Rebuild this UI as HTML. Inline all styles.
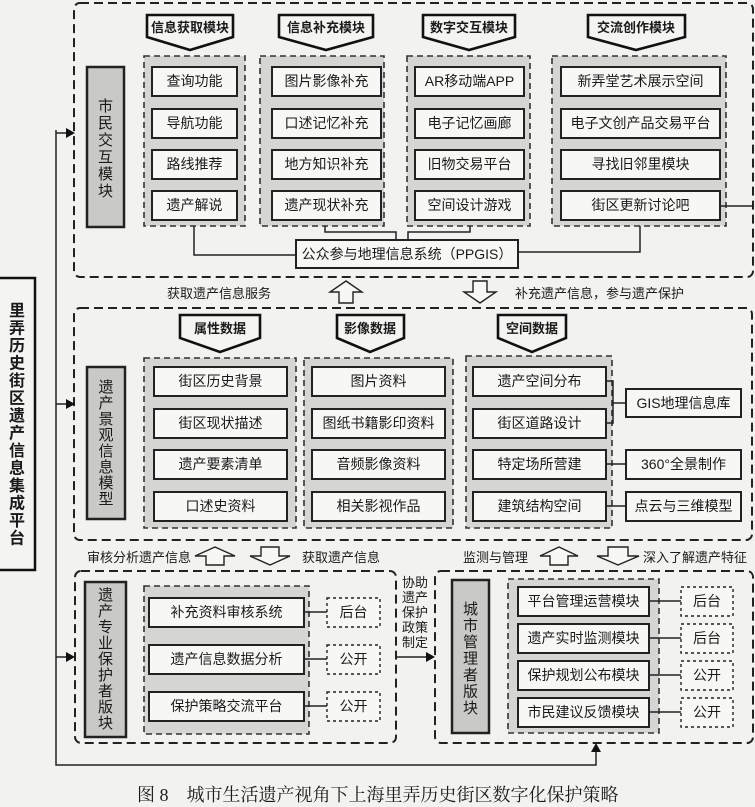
<!DOCTYPE html>
<html><head><meta charset="utf-8"><style>
html,body{margin:0;padding:0;background:#f2f2f0;}
svg{display:block;}
text{font-family:"Liberation Sans","Noto Sans CJK SC",sans-serif;fill:#1a1a1a;}
.b{fill:#f7f7f5;stroke:#222;stroke-width:2;}
.g{fill:#d5d5d3;stroke:#333;stroke-width:1.6;stroke-dasharray:6 4;}
.p{fill:none;stroke:#222;stroke-width:2;stroke-dasharray:9 5;}
.v{fill:#c9c9c7;stroke:#222;stroke-width:2.5;}
.t{fill:#f7f7f5;stroke:#222;stroke-width:1.4;stroke-dasharray:3 3;}
.l{fill:none;stroke:#222;stroke-width:1.5;}
.pt{fill:#f4f4f2;stroke:#111;stroke-width:2.6;}
.ha{fill:#f7f7f5;stroke:#222;stroke-width:1.4;}
.c{text-anchor:middle;font-size:14px;}
.h{text-anchor:middle;font-size:13px;font-weight:bold;}
.vt{text-anchor:middle;font-size:15px;}
</style></head><body>
<svg width="755" height="807" viewBox="0 0 755 807" xmlns="http://www.w3.org/2000/svg">
<rect class="p" x="74" y="3" width="679" height="274" rx="6"/>
<rect class="p" x="74" y="308" width="678" height="232" rx="6"/>
<rect class="p" x="75" y="571" width="321" height="172" rx="6"/>
<rect class="p" x="435" y="571" width="318" height="172" rx="6"/>

<rect x="-2" y="278" width="37" height="292" fill="#f4f4f2" stroke="#111" stroke-width="2.5"/>
<text text-anchor="middle" font-size="16" font-weight="bold">
<tspan x="17" y="316">里</tspan><tspan x="17" y="333.5">弄</tspan><tspan x="17" y="351">历</tspan><tspan x="17" y="368.5">史</tspan><tspan x="17" y="386">街</tspan><tspan x="17" y="403.5">区</tspan><tspan x="17" y="421">遗</tspan><tspan x="17" y="438.5">产</tspan><tspan x="17" y="456">信</tspan><tspan x="17" y="473.5">息</tspan><tspan x="17" y="491">集</tspan><tspan x="17" y="508.5">成</tspan><tspan x="17" y="526">平</tspan><tspan x="17" y="543.5">台</tspan></text>

<polyline class="l" points="56,130 56,765 596,765 596,750" stroke-width="2"/>
<line class="l" x1="56" y1="133" x2="68" y2="133" stroke-width="2"/><polygon points="66,128 75,133 66,138" fill="#111"/>
<line class="l" x1="56" y1="404" x2="68" y2="404" stroke-width="2"/><polygon points="66,399 75,404 66,409" fill="#111"/>
<line class="l" x1="56" y1="657" x2="68" y2="657" stroke-width="2"/><polygon points="66,652 75,657 66,662" fill="#111"/>
<polygon points="591,752 596,743 601,752" fill="#111"/>
<line class="l" x1="396" y1="657" x2="428" y2="657" stroke-width="2"/><polygon points="426,652 435,657 426,662" fill="#111"/>

<rect class="v" x="87" y="67" width="37" height="160"/>
<text class="vt"><tspan x="105.5" y="111">市</tspan><tspan x="105.5" y="128">民</tspan><tspan x="105.5" y="145">交</tspan><tspan x="105.5" y="162">互</tspan><tspan x="105.5" y="179">模</tspan><tspan x="105.5" y="196">块</tspan></text>

<polygon class="pt" points="147,15 233,15 233,37 190,50 147,37"/><text class="h" x="190" y="32">信息获取模块</text>
<polygon class="pt" points="279,15 373,15 373,37 326,50 279,37"/><text class="h" x="326" y="32">信息补充模块</text>
<polygon class="pt" points="423,15 515,15 515,37 469,50 423,37"/><text class="h" x="469" y="32">数字交互模块</text>
<polygon class="pt" points="588,15 685,15 685,37 636,50 588,37"/><text class="h" x="636" y="32">交流创作模块</text>

<rect class="g" x="144" y="56" width="101" height="170"/>
<rect class="g" x="260" y="56" width="124" height="170"/>
<rect class="g" x="407" y="56" width="123" height="170"/>
<rect class="g" x="552" y="56" width="174" height="170"/>

<g>
<rect class="b" x="152" y="67" width="85" height="29"/><text class="c" x="194.5" y="86">查询功能</text>
<rect class="b" x="152" y="109" width="85" height="29"/><text class="c" x="194.5" y="128">导航功能</text>
<rect class="b" x="152" y="150" width="85" height="29"/><text class="c" x="194.5" y="169">路线推荐</text>
<rect class="b" x="152" y="191" width="85" height="29"/><text class="c" x="194.5" y="210">遗产解说</text>
<rect class="b" x="272" y="67" width="109" height="29"/><text class="c" x="326.5" y="86">图片影像补充</text>
<rect class="b" x="272" y="109" width="109" height="29"/><text class="c" x="326.5" y="128">口述记忆补充</text>
<rect class="b" x="272" y="150" width="109" height="29"/><text class="c" x="326.5" y="169">地方知识补充</text>
<rect class="b" x="272" y="191" width="109" height="29"/><text class="c" x="326.5" y="210">遗产现状补充</text>
<rect class="b" x="415" y="67" width="109" height="29"/><text class="c" x="469.5" y="86">AR移动端APP</text>
<rect class="b" x="415" y="109" width="109" height="29"/><text class="c" x="469.5" y="128">电子记忆画廊</text>
<rect class="b" x="415" y="150" width="109" height="29"/><text class="c" x="469.5" y="169">旧物交易平台</text>
<rect class="b" x="415" y="191" width="109" height="29"/><text class="c" x="469.5" y="210">空间设计游戏</text>
<rect class="b" x="561" y="67" width="159" height="29"/><text class="c" x="640.5" y="86">新弄堂艺术展示空间</text>
<rect class="b" x="561" y="109" width="159" height="29"/><text class="c" x="640.5" y="128">电子文创产品交易平台</text>
<rect class="b" x="561" y="150" width="159" height="29"/><text class="c" x="640.5" y="169">寻找旧邻里模块</text>
<rect class="b" x="561" y="191" width="159" height="29"/><text class="c" x="640.5" y="210">街区更新讨论吧</text>
</g>
<polyline class="l" points="194,226 194,255 296,255"/>
<polyline class="l" points="325,226 325,232 396,232 396,240"/>
<polyline class="l" points="470,226 470,232 408,232 408,240"/>
<polyline class="l" points="640,226 640,252 518,252"/>
<line class="l" x1="720" y1="206" x2="753" y2="206"/>
<rect class="b" x="296" y="240" width="222" height="28" stroke-width="1.6"/><text class="c" x="407" y="259">公众参与地理信息系统（PPGIS）</text>

<text x="167" y="298" font-size="13">获取遗产信息服务</text>
<polygon class="ha" points="346,281 362,292 353,292 353,303 339,303 339,292 330,292"/>
<polygon class="ha" points="480,303 496,292 487,292 487,281 473,281 473,292 464,292"/>
<text x="515" y="298" font-size="13">补充遗产信息，参与遗产保护</text>

<rect class="v" x="87" y="367" width="38" height="152"/>
<text class="vt" font-size="14"><tspan x="106" y="392">遗</tspan><tspan x="106" y="408">产</tspan><tspan x="106" y="424">景</tspan><tspan x="106" y="440">观</tspan><tspan x="106" y="456">信</tspan><tspan x="106" y="472">息</tspan><tspan x="106" y="488">模</tspan><tspan x="106" y="504">型</tspan></text>

<polygon class="pt" points="180,315 260,315 260,338 220,352 180,338"/><text class="h" x="220" y="333">属性数据</text>
<polygon class="pt" points="337,315 404,315 404,338 370,352 337,338"/><text class="h" x="370" y="333">影像数据</text>
<polygon class="pt" points="498,315 566,315 566,338 532,352 498,338"/><text class="h" x="532" y="333">空间数据</text>

<rect class="g" x="144" y="358" width="152" height="170"/>
<rect class="g" x="304" y="358" width="149" height="170"/>
<rect class="g" x="466" y="356" width="146" height="172"/>
<g>
<rect class="b" x="154" y="367" width="133" height="29"/><text class="c" x="220.5" y="386">街区历史背景</text>
<rect class="b" x="154" y="409" width="133" height="29"/><text class="c" x="220.5" y="428">街区现状描述</text>
<rect class="b" x="154" y="450" width="133" height="29"/><text class="c" x="220.5" y="469">遗产要素清单</text>
<rect class="b" x="154" y="492" width="133" height="29"/><text class="c" x="220.5" y="511">口述史资料</text>
<rect class="b" x="312" y="367" width="133" height="29"/><text class="c" x="378.5" y="386">图片资料</text>
<rect class="b" x="312" y="409" width="133" height="29"/><text class="c" x="378.5" y="428">图纸书籍影印资料</text>
<rect class="b" x="312" y="450" width="133" height="29"/><text class="c" x="378.5" y="469">音频影像资料</text>
<rect class="b" x="312" y="492" width="133" height="29"/><text class="c" x="378.5" y="511">相关影视作品</text>
<rect class="b" x="473" y="367" width="133" height="29"/><text class="c" x="539.5" y="386">遗产空间分布</text>
<rect class="b" x="473" y="409" width="133" height="29"/><text class="c" x="539.5" y="428">街区道路设计</text>
<rect class="b" x="473" y="450" width="133" height="29"/><text class="c" x="539.5" y="469">特定场所营建</text>
<rect class="b" x="473" y="492" width="133" height="29"/><text class="c" x="539.5" y="511">建筑结构空间</text>
<rect class="b" x="626" y="389" width="115" height="28"/><text class="c" x="683.5" y="408">GIS地理信息库</text>
<rect class="b" x="626" y="450" width="115" height="29"/><text class="c" x="683.5" y="469">360°全景制作</text>
<rect class="b" x="626" y="492" width="115" height="29"/><text class="c" x="683.5" y="511">点云与三维模型</text>
</g>
<polyline class="l" points="606,381 613,381 613,423 606,423"/>
<line class="l" x1="613" y1="403" x2="626" y2="403"/>
<line class="l" x1="606" y1="464" x2="626" y2="464"/>
<line class="l" x1="606" y1="506" x2="626" y2="506"/>

<text x="87" y="562" font-size="13">审核分析遗产信息</text>
<polygon class="ha" points="215,547 235,556 224,556 224,565 206,565 206,556 195,556"/>
<polygon class="ha" points="270,565 290,556 279,556 279,547 261,547 261,556 250,556"/>
<text x="302" y="562" font-size="13">获取遗产信息</text>
<text x="463" y="562" font-size="13">监测与管理</text>
<polygon class="ha" points="559,547 578,556 568,556 568,565 550,565 550,556 540,556"/>
<polygon class="ha" points="618,565 639,556 628,556 628,547 608,547 608,556 597,556"/>
<text x="643" y="562" font-size="13">深入了解遗产特征</text>

<rect class="v" x="85" y="582" width="41" height="155"/>
<text class="vt" font-size="14"><tspan x="105.5" y="600">遗</tspan><tspan x="105.5" y="616">产</tspan><tspan x="105.5" y="632">专</tspan><tspan x="105.5" y="648">业</tspan><tspan x="105.5" y="664">保</tspan><tspan x="105.5" y="680">护</tspan><tspan x="105.5" y="696">者</tspan><tspan x="105.5" y="712">版</tspan><tspan x="105.5" y="728">块</tspan></text>
<rect class="g" x="144" y="586" width="165" height="148"/>
<rect class="b" x="149" y="598" width="155" height="29"/><text class="c" x="226.5" y="617">补充资料审核系统</text>
<rect class="b" x="149" y="645" width="155" height="29"/><text class="c" x="226.5" y="664">遗产信息数据分析</text>
<rect class="b" x="149" y="692" width="155" height="29"/><text class="c" x="226.5" y="711">保护策略交流平台</text>
<rect class="t" x="327" y="598" width="53" height="29"/><text class="c" x="353.5" y="617">后台</text>
<rect class="t" x="327" y="645" width="53" height="29"/><text class="c" x="353.5" y="664">公开</text>
<rect class="t" x="327" y="692" width="53" height="29"/><text class="c" x="353.5" y="711">公开</text>
<line class="l" x1="304" y1="612" x2="327" y2="612"/>
<line class="l" x1="304" y1="659" x2="327" y2="659"/>
<line class="l" x1="304" y1="706" x2="327" y2="706"/>

<text font-size="13"><tspan x="402" y="587">协助</tspan><tspan x="402" y="602">遗产</tspan><tspan x="402" y="617">保护</tspan><tspan x="402" y="632">政策</tspan><tspan x="402" y="647">制定</tspan></text>

<rect class="v" x="452" y="580" width="37" height="153"/>
<text class="vt" font-size="14"><tspan x="470.5" y="614">城</tspan><tspan x="470.5" y="630.5">市</tspan><tspan x="470.5" y="647">管</tspan><tspan x="470.5" y="663.5">理</tspan><tspan x="470.5" y="680">者</tspan><tspan x="470.5" y="696.5">版</tspan><tspan x="470.5" y="713">块</tspan></text>
<rect class="g" x="508" y="579" width="151" height="154"/>
<rect class="b" x="518" y="587" width="131" height="29"/><text class="c" x="583.5" y="606">平台管理运营模块</text>
<rect class="b" x="518" y="624" width="131" height="29"/><text class="c" x="583.5" y="643">遗产实时监测模块</text>
<rect class="b" x="518" y="661" width="131" height="29"/><text class="c" x="583.5" y="680">保护规划公布模块</text>
<rect class="b" x="518" y="698" width="131" height="29"/><text class="c" x="583.5" y="717">市民建议反馈模块</text>
<rect class="t" x="681" y="587" width="52" height="29"/><text class="c" x="707" y="606">后台</text>
<rect class="t" x="681" y="624" width="52" height="29"/><text class="c" x="707" y="643">后台</text>
<rect class="t" x="681" y="661" width="52" height="29"/><text class="c" x="707" y="680">公开</text>
<rect class="t" x="681" y="698" width="52" height="29"/><text class="c" x="707" y="717">公开</text>
<line class="l" x1="649" y1="601" x2="681" y2="601"/>
<line class="l" x1="649" y1="638" x2="681" y2="638"/>
<line class="l" x1="649" y1="675" x2="681" y2="675"/>
<line class="l" x1="649" y1="712" x2="681" y2="712"/>

<text x="137" y="801" font-size="18" style="font-family:'Liberation Serif','Noto Serif CJK SC',serif">图 8　城市生活遗产视角下上海里弄历史街区数字化保护策略</text>
</svg>
</body></html>
